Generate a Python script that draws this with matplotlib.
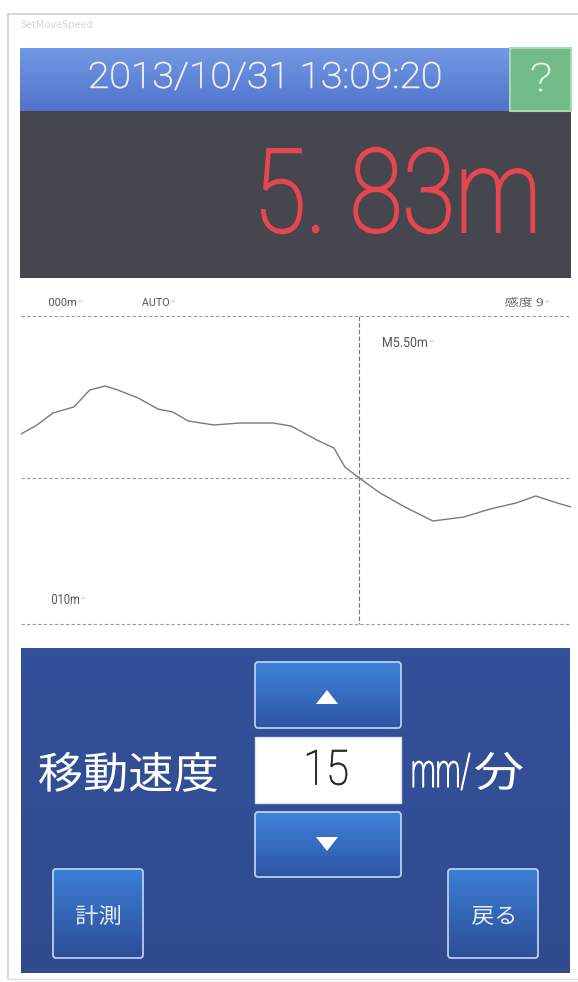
#!/usr/bin/env python3
# SetMoveSpeed screen: depth profile with cursor plus speed controls

import numpy as np
import matplotlib
matplotlib.use("Agg")
import matplotlib.pyplot as plt
from matplotlib.patches import Rectangle, FancyBboxPatch, PathPatch
from matplotlib.textpath import TextPath
from matplotlib.font_manager import FontProperties
from matplotlib.transforms import Affine2D

# ----------------------------
# Screen contents
# ----------------------------
SCREEN_TITLE = "SetMoveSpeed"
DATE_TEXT = "2013/10/31 13:09:20"
READING_TEXT = "5. 83m"
RANGE_TOP_LABEL = "000m"
RANGE_BOTTOM_LABEL = "010m"
MODE_LABEL = "AUTO"
SENS_LABEL = "感度 9"
CURSOR_LABEL = "M5.50m"
SPEED_LABEL = "移動速度"
SPEED_VALUE = "15"
SPEED_UNIT = "mm/"
SPEED_UNIT_CJK = "分"
BUTTON_LEFT = "計測"
BUTTON_RIGHT = "戻る"

# profile along the scan (position 0..100, depth in m)
PROFILE_POS = [0.0, 2.9, 5.8, 9.6, 12.5, 15.3, 17.6, 21.3, 24.9, 27.6, 30.4,
               35.1, 39.8, 45.8, 49.1, 51.8, 53.8, 56.9, 58.9, 61.5, 65.3,
               69.8, 74.9, 80.5, 85.3, 90.0, 93.6, 97.5, 100.0]
PROFILE_DEPTH = [5.06, 4.97, 4.85, 4.79, 4.62, 4.58, 4.62, 4.70, 4.81, 4.84,
                 4.93, 4.97, 4.95, 4.95, 4.98, 5.06, 5.12, 5.20, 5.39, 5.50,
                 5.65, 5.79, 5.93, 5.89, 5.81, 5.75, 5.68, 5.75, 5.79]
CURSOR_POS = 61.5
CURSOR_DEPTH = 5.50
DEPTH_TOP = 3.88
DEPTH_BOTTOM = 7.20
DEPTH_BASELINE = 6.96

W, H = 578, 982
LATIN = ["Roboto", "DejaVu Sans"]
CJK = ["Noto Sans CJK JP", "DejaVu Sans"]


def grad_rect(ax, x0, y0, x1, y1, top, bottom, z=1):
    '''Vertical gradient box in pixel coordinates (y grows downward).'''
    c0 = np.array(matplotlib.colors.to_rgb(top))
    c1 = np.array(matplotlib.colors.to_rgb(bottom))
    t = np.linspace(0, 1, 64)[:, None, None]
    img = c0 * (1 - t) + c1 * t
    ax.imshow(img, extent=(x0, x1, y1, y0), aspect="auto", origin="upper",
              zorder=z, interpolation="bilinear")


def fit_text(ax, s, x0, x1, y0, y1, color, family=LATIN, weight="normal", edge=0.0, z=6):
    '''Draw text as a path squeezed into the ink box (x0..x1, y0..y1) - the panel font is narrow.'''
    tp = TextPath((0, 0), s, size=100, prop=FontProperties(family=family, weight=weight))
    bb = tp.get_extents()
    sx = (x1 - x0) / bb.width
    sy = (y1 - y0) / bb.height
    tr = Affine2D().translate(-bb.x0, -bb.y1).scale(sx, -sy).translate(x0, y0)
    ax.add_patch(PathPatch(tr.transform_path(tp), fc=color,
                           ec=color if edge else "none", lw=edge, zorder=z))


def button(ax, x0, y0, x1, y1, top, bottom):
    grad_rect(ax, x0, y0, x1, y1, top, bottom, z=3)
    ax.add_patch(FancyBboxPatch((x0, y0), x1 - x0, y1 - y0,
                                boxstyle="round,pad=0,rounding_size=3",
                                fill=False, ec="#b9cdf2", lw=1.3, zorder=4))


def small_label(ax, s, x0, x1, y0, y1, family=LATIN, color="#555555"):
    fit_text(ax, s, x0, x1, y0, y1, color, family=family)
    ax.text(x1 + 2, (y0 + y1) / 2, "\u21B5", fontsize=4.5, color="#c4c4c4",
            va="center", zorder=6)


fig = plt.figure(figsize=(W / 100, H / 100), dpi=100)
fig.patch.set_facecolor("white")

# profile graph (drawn below the overlay axes so labels stay visible)
gx0, gx1, gy0, gy1 = 21, 571, 316, 648
g = fig.add_axes([gx0 / W, 1 - gy1 / H, (gx1 - gx0) / W, (gy1 - gy0) / H])
g.set_xlim(0, 100)
g.set_ylim(DEPTH_BOTTOM, DEPTH_TOP)
g.set_facecolor("white")
for s in g.spines.values():
    s.set_visible(False)
g.set_xticks([])
g.set_yticks([])
dash = dict(color="#9a9a9a", lw=0.8, ls=(0, (3, 2)))
g.axhline(DEPTH_TOP, **dash)
g.axhline(CURSOR_DEPTH, **dash)
g.axhline(DEPTH_BASELINE, **dash)
g.plot([CURSOR_POS, CURSOR_POS], [DEPTH_TOP, DEPTH_BASELINE], color="#707070",
       lw=0.8, ls=(0, (4, 2)))
g.plot(PROFILE_POS, PROFILE_DEPTH, color="#7a7a7a", lw=1.0)

ui = fig.add_axes([0, 0, 1, 1])
ui.set_xlim(0, W)
ui.set_ylim(H, 0)
ui.axis("off")
ui.patch.set_alpha(0)

# outer frame
ui.plot([8, 8], [14, 978], color="#d0d0d0", lw=1.2, zorder=1)
ui.plot([8, W], [14, 14], color="#d0d0d0", lw=1.2, zorder=1)
ui.plot([8, W], [979, 979], color="#e0e0e0", lw=1.0, zorder=1)
ui.text(20, 25, SCREEN_TITLE, fontsize=7, color="#d6d6d6", va="center")

# header with date and help button
grad_rect(ui, 20, 48, 510, 111, "#7299e3", "#5273cc", z=2)
fit_text(ui, DATE_TEXT, 90, 440, 62, 90, "#eef2fb", weight="light", edge=0.6)
ui.add_patch(Rectangle((510, 48), 61, 63, fc="#71bb86", ec="#a7d8b3", lw=1.5, zorder=3))
fit_text(ui, "?", 532, 550, 63, 91, "#e8f4ea", weight="light", edge=0.6)

# reading display
ui.add_patch(Rectangle((20, 111), 551, 167, fc="#46464e", ec="none", zorder=2))
fit_text(ui, READING_TEXT, 262, 534, 148, 233, "#e8464f", weight="light", edge=1.6)

# status row and graph labels
small_label(ui, RANGE_TOP_LABEL, 49, 76, 298, 306)
small_label(ui, MODE_LABEL, 142, 169, 298, 306)
small_label(ui, SENS_LABEL, 505, 543, 297, 307, family=CJK, color="#666666")
small_label(ui, CURSOR_LABEL, 383, 427, 337, 347)
small_label(ui, RANGE_BOTTOM_LABEL, 52, 79, 594, 604)

# speed control panel
grad_rect(ui, 21, 648, 570, 973, "#33509a", "#314c8e", z=2)
button(ui, 255, 662, 401, 728, "#3f83da", "#2e55a4")
button(ui, 255, 812, 401, 877, "#3f83da", "#2e55a4")
fit_text(ui, "\u25B2", 316, 338, 690, 704, "white", family=["DejaVu Sans"])
fit_text(ui, "\u25BC", 316, 338, 837, 851, "white", family=["DejaVu Sans"])
ui.add_patch(Rectangle((255, 737), 146, 66, fc="white", ec="#d8e2f4", lw=1, zorder=3))
fit_text(ui, SPEED_VALUE, 307, 347, 750, 785, "#222222", weight="light", edge=0.6)
fit_text(ui, SPEED_LABEL, 39, 217, 752, 792, "white", family=CJK)
fit_text(ui, SPEED_UNIT, 413, 470, 753, 790, "white", weight="light", edge=0.9)
fit_text(ui, SPEED_UNIT_CJK, 475, 523, 752, 790, "white", family=CJK)

button(ui, 53, 869, 143, 958, "#3b7ed6", "#2d4e98")
button(ui, 448, 869, 538, 958, "#3b7ed6", "#2d4e98")
fit_text(ui, BUTTON_LEFT, 76, 120, 905, 925, "#e8eefa", family=CJK)
fit_text(ui, BUTTON_RIGHT, 472, 514, 906, 925, "#e8eefa", family=CJK)

ui.set_xlim(0, W)
ui.set_ylim(H, 0)
fig.savefig("out.png", dpi=100)
